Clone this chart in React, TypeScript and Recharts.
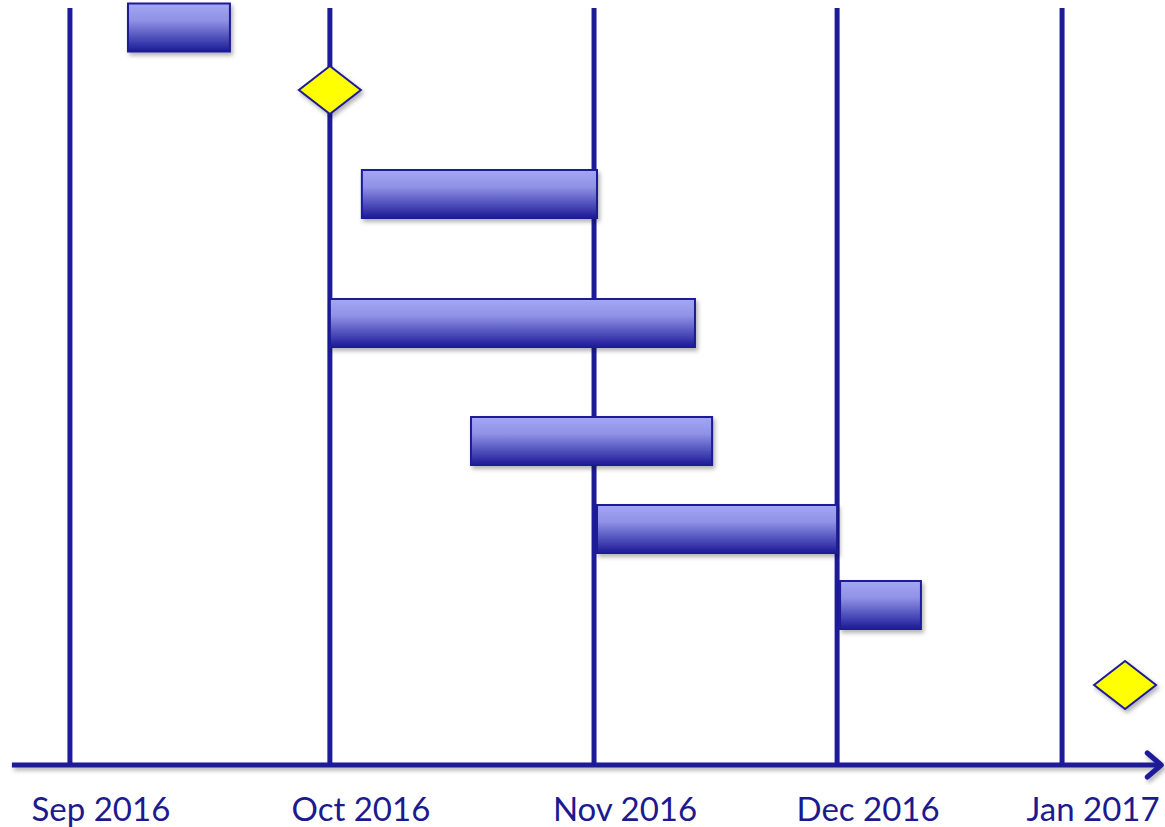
import { ComposedChart, XAxis, YAxis, ReferenceLine, ReferenceArea, Scatter } from 'recharts';

// timeline in "month" units (Sep 2016 = 0, Jan 2017 = 4)
const monthLabels = ['Sep 2016', 'Oct 2016', 'Nov 2016', 'Dec 2016', 'Jan 2017'];
const monthPositions = [0, 1.048, 2.113, 3.093, 4];

// tasks: start / end on the timeline, row = vertical lane position
const taskStarts = [0.234, 1.177, 1.048, 1.617, 2.125, 3.105];
const taskEnds = [0.645, 2.125, 2.52, 2.589, 3.093, 3.431];
const taskRows = [14.75, 11.42, 8.84, 6.48, 4.72, 3.2];

// milestones (diamonds)
const milestoneDates = [1.048, 4.254];
const milestoneRows = [13.5, 1.6];

const LINE = '#1e1b98';
const BAR_HALF = 0.48;

const milestones = milestoneDates.map((x, i) => ({ x, y: milestoneRows[i] }));

const MonthTick = (props: any) => {
  const { x, y, payload } = props;
  const i = monthPositions.indexOf(payload.value);
  return (
    <text x={x + 31} y={y} dy={48} textAnchor="middle" fill="#1c1a8e" fontSize={33} fontFamily="Lato, 'Open Sans', sans-serif">
      {monthLabels[i] ?? ''}
    </text>
  );
};

const Diamond = (props: any) => {
  const { cx, cy } = props;
  const w = 31;
  const h = 24;
  return (
    <polygon
      points={`${cx},${cy - h} ${cx + w},${cy} ${cx},${cy + h} ${cx - w},${cy}`}
      fill="#ffff00"
      stroke={LINE}
      strokeWidth={2}
      filter="url(#shadow)"
    />
  );
};

const TaskBar = (props: any) => {
  const { x, y, width, height } = props;
  return (
    <rect x={x} y={y} width={width} height={height} fill="url(#barGrad)" stroke={LINE} strokeWidth={2} filter="url(#shadow)" />
  );
};

const ArrowLine = (props: any) => {
  const { x1, y1, x2, y2 } = props;
  return (
    <g filter="url(#shadow)">
      <line x1={x1} y1={y1} x2={x2} y2={y2} stroke={LINE} strokeWidth={5} />
      <polyline points={`${x2 - 14},${y2 - 12} ${x2},${y2} ${x2 - 14},${y2 + 12}`} fill="none" stroke={LINE} strokeWidth={5} strokeLinecap="round" strokeLinejoin="round" />
    </g>
  );
};

export default function App() {
  return (
    <div style={{ position: 'absolute', left: 0, top: 0, background: '#fff' }}>
      <ComposedChart width={1165} height={827} data={milestones} margin={{ top: 0, right: 0, bottom: 0, left: 0 }}>
        <defs>
          <linearGradient id="barGrad" x1="0" y1="0" x2="0" y2="1">
            <stop offset="0%" stopColor="#a4a7f2" />
            <stop offset="35%" stopColor="#8f92e6" />
            <stop offset="100%" stopColor="#1c1a98" />
          </linearGradient>
          <filter id="shadow" x="-10%" y="-10%" width="130%" height="140%">
            <feDropShadow dx="2" dy="3" stdDeviation="2" floodColor="#000" floodOpacity="0.3" />
          </filter>
        </defs>
        <XAxis
          type="number"
          dataKey="x"
          domain={[-0.282, 4.415]}
          allowDataOverflow
          ticks={monthPositions}
          tick={<MonthTick />}
          axisLine={false}
          tickLine={false}
          height={62}
          interval={0}
        />
        <YAxis type="number" dataKey="y" domain={[0, 15.3]} allowDataOverflow hide />
        {monthPositions.map((m) => (
          <ReferenceLine
            key={`m-${m}`}
            segment={[{ x: m, y: 0 }, { x: m, y: 15.14 }]}
            stroke={LINE}
            strokeWidth={5}
            ifOverflow="visible"
            zIndex={50}
          />
        ))}
        <ReferenceLine
          segment={[{ x: -0.234, y: 0 }, { x: 4.4, y: 0 }]}
          shape={<ArrowLine />}
          ifOverflow="visible"
          zIndex={60}
        />
        {taskRows.map((r, i) => (
          <ReferenceArea
            key={`t-${i}`}
            x1={taskStarts[i]}
            x2={taskEnds[i]}
            y1={r - BAR_HALF}
            y2={r + BAR_HALF}
            shape={<TaskBar />}
            ifOverflow="visible"
            zIndex={450}
          />
        ))}
        <Scatter dataKey="y" data={milestones} shape={<Diamond />} isAnimationActive={false} zIndex={650} />
      </ComposedChart>
    </div>
  );
}
